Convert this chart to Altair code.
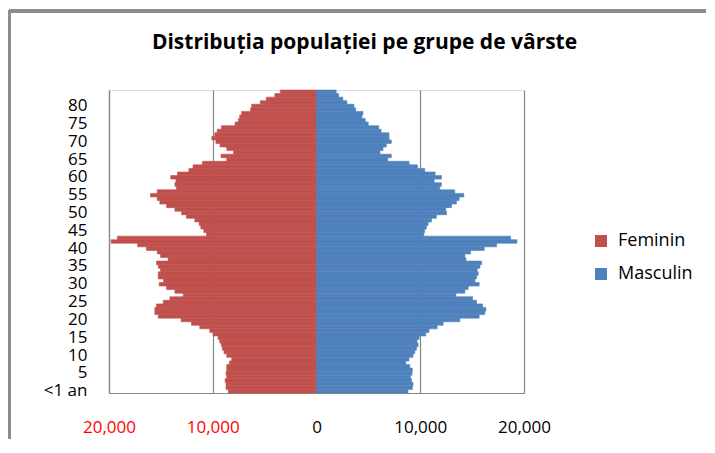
import altair as alt
import pandas as pd

ages = list(range(0, 85))

female = [
    8490, 8720, 8720, 8810, 8650, 8720, 8650, 8650, 8400, 8170,
    8650, 8910, 9070, 9170, 9330, 9490, 9970, 10290, 11250, 12050,
    13050, 15260, 15580, 15580, 15420, 14770, 14130, 12850, 13650, 14450,
    15160, 14740, 15250, 15250, 15030, 15250, 15420, 14300, 15030, 15350,
    16380, 17240, 19800, 19200, 10600, 10860, 11150, 11310, 11730, 12530,
    13000, 13650, 14450, 15100, 15350, 16000, 15350, 13500, 13650, 13550,
    14050, 13400, 12300, 11900, 11000, 8650, 9200, 8000, 8650, 9300,
    9700, 10090, 9800, 9570, 9160, 7850, 7530, 7400, 7220, 6350,
    6250, 5420, 4840, 4010, 3490,
]

male = [
    8820, 9240, 9310, 9150, 9050, 9210, 9240, 8990, 8600, 8920,
    9300, 9470, 9630, 9790, 9690, 9890, 10530, 10850, 11630, 12210,
    13820, 15680, 16230, 16330, 16010, 15430, 15040, 13430, 14300, 14620,
    15680, 15270, 15430, 15590, 15490, 15750, 15910, 14400, 14300, 14850,
    16170, 17360, 19320, 18710, 10340, 10430, 10600, 10760, 11080, 11560,
    12530, 12460, 13010, 13490, 13750, 14200, 13330, 11880, 12040, 11340,
    12040, 11430, 10430, 9730, 8920, 6860, 7210, 6120, 6410, 6730,
    7210, 6990, 6990, 6220, 5990, 4990, 4700, 4380, 4480, 3770,
    3610, 2930, 2540, 2130, 1900,
]

series = ["Feminin", "Masculin"]
colors = ["#C0504D", "#4F81BD"]
x_ticks = [-20000, -10000, 0, 10000, 20000]
y_label_ages = list(range(0, 81, 5))

rows = []
for a, f, m in zip(ages, female, male):
    rows.append({"age": a, "sex": "Feminin", "value": -f})
    rows.append({"age": a, "sex": "Masculin", "value": m})
df = pd.DataFrame(rows)

FONT = "Open Sans"
GRID = "#868686"
color_scale = alt.Scale(domain=series, range=colors)

bars = alt.Chart(df).mark_bar(strokeWidth=0.6).encode(
    y=alt.Y(
        "age:O",
        sort="descending",
        scale=alt.Scale(paddingInner=0, paddingOuter=0),
        axis=alt.Axis(
            title=None,
            values=y_label_ages,
            ticks=False,
            domain=True,
            domainColor=GRID,
            domainWidth=1.2,
            labelExpr="datum.value == 0 ? '<1 an' : datum.label",
            labelOverlap=False,
            labelFont=FONT,
            labelFontSize=17,
            labelColor="#000000",
            labelPadding=22,
        ),
    ),
    x=alt.X(
        "value:Q",
        stack=None,
        scale=alt.Scale(domain=[-20000, 20000], nice=False),
        axis=alt.Axis(
            title=None,
            values=x_ticks,
            ticks=False,
            grid=True,
            gridColor=GRID,
            gridWidth=1.2,
            domain=True,
            domainColor=GRID,
            domainWidth=1.2,
            labelExpr="format(abs(datum.value), ',')",
            labelFont=FONT,
            labelFontSize=17,
            labelColor={"condition": {"test": "datum.value < 0", "value": "#FF0000"}, "value": "#000000"},
            labelPadding=26,
            labelFlush=False,
        ),
    ),
    color=alt.Color(
        "sex:N",
        scale=color_scale,
        legend=alt.Legend(
            title=None,
            orient="none",
            legendX=483,
            legendY=142,
            symbolType="square",
            symbolSize=144,
            symbolStrokeWidth=0,
            labelFont=FONT,
            labelFontSize=18,
            labelColor="#000000",
            labelOffset=8,
            rowPadding=15,
            padding=0,
        ),
    ),
    stroke=alt.Stroke("sex:N", scale=color_scale, legend=None),
)

frame_top = alt.Chart(df).mark_rule(color="#8c8c8c", strokeWidth=2.5).encode(
    x=alt.value(-100), x2=alt.value(597), y=alt.value(-79)
)
frame_left = alt.Chart(df).mark_rule(color="#8c8c8c", strokeWidth=2.5).encode(
    x=alt.value(-99.5), y=alt.value(-80), y2=alt.value(349)
)

chart = alt.layer(bars, frame_top, frame_left).properties(
    width=415,
    height=303,
    padding={"left": 101, "top": 82, "right": 183, "bottom": 46},
    autosize=alt.AutoSizeParams(type="none"),
    title=alt.Title(
        "Distribuția populației pe grupe de vârste",
        font=FONT,
        fontSize=21,
        fontWeight="bold",
        color="#000000",
        anchor="middle",
        frame="group",
        baseline="alphabetic",
        dx=48,
        offset=-61,
    ),
).configure_view(stroke=None).configure(background="white")

chart.save("out.html", embed_options={"renderer": "svg", "actions": False})
